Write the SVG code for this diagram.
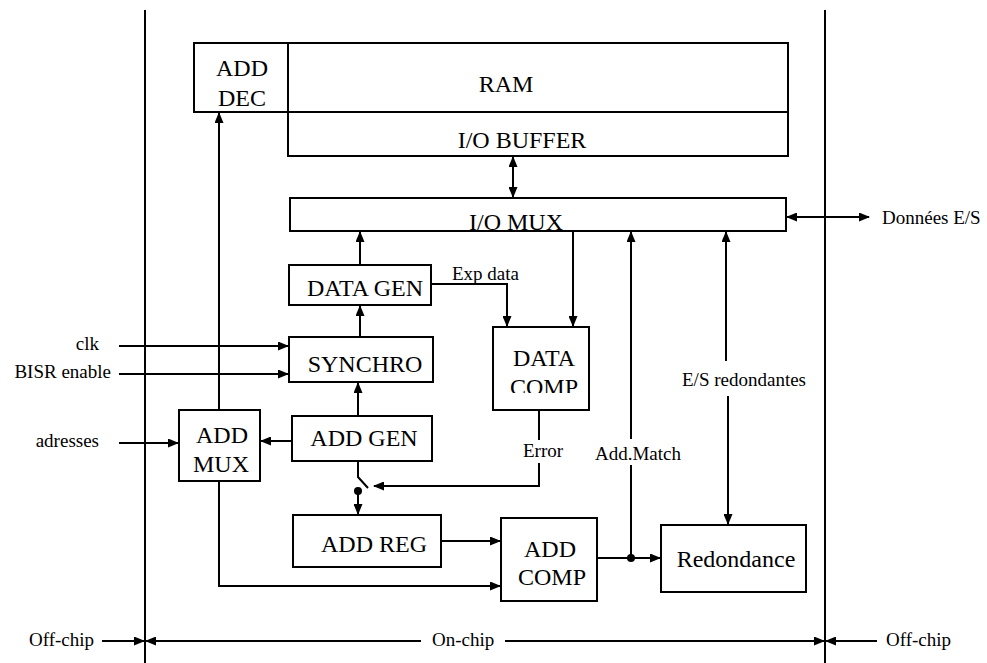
<svg xmlns="http://www.w3.org/2000/svg" width="987" height="663" viewBox="0 0 987 663">
<style>
.box{fill:#fff;stroke:#000;stroke-width:2}
.ln{fill:none;stroke:#000;stroke-width:2}
text{font-family:'Liberation Serif','Times New Roman',Tinos,'DejaVu Serif','Noto Serif',serif;fill:#000}
.big{font-size:24px}
.sm{font-size:19px}
.c{text-anchor:middle}
.e{text-anchor:end}
</style>
<defs>
<marker id="arr" markerUnits="userSpaceOnUse" markerWidth="11" markerHeight="9" refX="10" refY="4.5" orient="auto-start-reverse">
<path d="M0,0 L11,4.5 L0,9 z" fill="#000"/>
</marker>
<clipPath id="dcclip"><rect x="493" y="327" width="96" height="66"/></clipPath>
</defs>
<g id="borders">
<path class="ln" d="M145,10 V663"/>
<path class="ln" d="M825,10 V663"/>
</g>
<g id="adddec"><rect class="box" x="194" y="43" width="94" height="69"/><text class="big c" x="242" y="76">ADD</text><text class="big c" x="242" y="106">DEC</text></g>
<g id="ram"><rect class="box" x="288" y="43" width="500" height="69"/><text class="big c" x="506" y="92">RAM</text></g>
<g id="iobuffer"><rect class="box" x="288" y="112" width="500" height="44"/><text class="big c" x="522" y="148">I/O BUFFER</text></g>
<g id="iomux"><rect class="box" x="290" y="198" width="496" height="33"/><text class="big c" x="516" y="230">I/O MUX</text></g>
<g id="datagen"><rect class="box" x="289" y="265" width="142" height="40"/><text class="big c" x="365" y="296">DATA GEN</text></g>
<g id="synchro"><rect class="box" x="289" y="337" width="144" height="45"/><text class="big c" x="365" y="372">SYNCHRO</text></g>
<g id="addgen"><rect class="box" x="292" y="416" width="140" height="45"/><text class="big c" x="364" y="446">ADD GEN</text></g>
<g id="addmux"><rect class="box" x="179" y="410" width="81" height="71"/><text class="big c" x="222" y="443">ADD</text><text class="big c" x="221" y="472">MUX</text></g>
<g id="datacomp"><rect class="box" x="493" y="327" width="96" height="83"/><text class="big c" x="544" y="366">DATA</text><text class="big c" x="544" y="395" clip-path="url(#dcclip)">COMP</text></g>
<g id="addreg"><rect class="box" x="293" y="515" width="148" height="52"/><text class="big c" x="374" y="552">ADD REG</text></g>
<g id="addcomp"><rect class="box" x="501" y="518" width="96" height="83"/><text class="big c" x="550" y="557">ADD</text><text class="big c" x="552" y="585">COMP</text></g>
<g id="redondance"><rect class="box" x="661" y="525" width="145" height="67"/><text class="big c" x="736" y="567">Redondance</text></g>
<g id="connectors">
<path class="ln" d="M219,410 V113" marker-end="url(#arr)"/>
<path class="ln" d="M513,157 V197" marker-start="url(#arr)" marker-end="url(#arr)"/>
<path class="ln" d="M787,217 H869" marker-start="url(#arr)" marker-end="url(#arr)"/>
<path class="ln" d="M360,265 V232" marker-end="url(#arr)"/>
<path class="ln" d="M360,337 V306" marker-end="url(#arr)"/>
<path class="ln" d="M358,416 V383" marker-end="url(#arr)"/>
<path class="ln" d="M292,441 H261" marker-end="url(#arr)"/>
<path class="ln" d="M119,346 H288" marker-end="url(#arr)"/>
<path class="ln" d="M119,374 H288" marker-end="url(#arr)"/>
<path class="ln" d="M119,443 H178" marker-end="url(#arr)"/>
<path class="ln" d="M431,284 H507 V326" marker-end="url(#arr)"/>
<path class="ln" d="M573,231 V326" marker-end="url(#arr)"/>
<path class="ln" d="M539,410 V440"/>
<path class="ln" d="M539,463 V486 H374" marker-end="url(#arr)"/>
<path class="ln" d="M358,461 V477 L368,488"/>
<circle cx="358" cy="491" r="4" fill="#000"/>
<path class="ln" d="M358,491 V514" marker-end="url(#arr)"/>
<path class="ln" d="M441,541 H500" marker-end="url(#arr)"/>
<path class="ln" d="M219,481 V586 H500" marker-end="url(#arr)"/>
<path class="ln" d="M597,558 H660" marker-end="url(#arr)"/>
<circle cx="631" cy="558" r="4" fill="#000"/>
<path class="ln" d="M631,558 V465"/>
<path class="ln" d="M631,439 V232" marker-end="url(#arr)"/>
<path class="ln" d="M726,361 V232" marker-end="url(#arr)"/>
<path class="ln" d="M728,396 V524" marker-end="url(#arr)"/>
<path class="ln" d="M102,641 H144" marker-end="url(#arr)"/>
<path class="ln" d="M421,641 H146" marker-end="url(#arr)"/>
<path class="ln" d="M505,641 H824" marker-end="url(#arr)"/>
<path class="ln" d="M877,641 H826" marker-end="url(#arr)"/>
</g>
<g id="labels">
<text class="sm e" x="99" y="350">clk</text>
<text class="sm e" x="111" y="378">BISR enable</text>
<text class="sm e" x="99" y="447">adresses</text>
<text class="sm" x="452" y="280">Exp data</text>
<text class="sm" x="523" y="457">Error</text>
<text class="sm" x="595" y="460">Add.Match</text>
<text class="sm" x="682" y="386">E/S redondantes</text>
<text class="sm" x="882" y="224">Données E/S</text>
<text class="sm" x="29" y="646">Off-chip</text>
<text class="sm" x="432" y="646">On-chip</text>
<text class="sm" x="886" y="646">Off-chip</text>
</g>
</svg>
